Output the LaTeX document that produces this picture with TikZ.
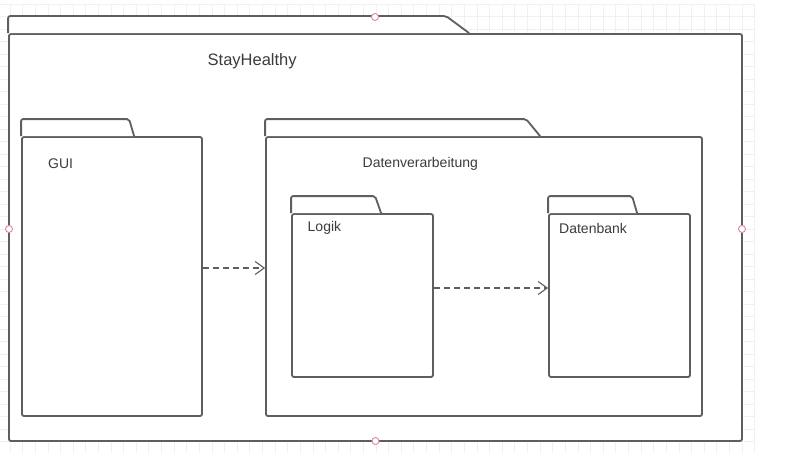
\documentclass[tikz,border=0pt]{standalone}
\usepackage{fontspec}
\setmainfont{Liberation Sans}
\usetikzlibrary{arrows.meta}
\definecolor{linegray}{HTML}{5E5E5E}
\definecolor{textgray}{HTML}{3C3C3C}
\definecolor{gridgray}{HTML}{F0F0F0}
\definecolor{handlered}{HTML}{D98A9A}

\begin{document}
\begin{tikzpicture}[x=1pt,y=-1pt]
\tikzstyle{pkg}=[draw=linegray, line width=1.8pt, rounded corners=2pt, fill=white, inner sep=0pt]
\tikzstyle{gridline}=[draw=gridgray, line width=0.7pt]
\tikzstyle{label}=[text=textgray, font=\fontsize{14}{17}\selectfont, anchor=west, inner sep=0pt]
\tikzstyle{dep}=[draw=linegray, line width=1.1pt, dash pattern=on 6pt off 4pt, -{Straight Barb[length=9pt,width=13pt,line width=1.1pt]}]
\tikzstyle{handle}=[circle, draw=handlered, fill=white, line width=0.9pt, minimum size=7pt, inner sep=0pt]

\useasboundingbox (0,0) rectangle (792,460);

% background grid
\foreach \i in {0,...,59} {
\draw[gridline] (10+\i*12.62,4) -- (10+\i*12.62,453);
}
\foreach \j in {0,...,35} {
\draw[gridline] (0,4+\j*12.5) -- (755,4+\j*12.5);
}

% package bodies
\node[pkg, minimum width=733pt, minimum height=407pt] (outer) at (375.5,237.5) {};
\node[pkg, minimum width=180pt, minimum height=279pt] (gui) at (112,276.5) {};
\node[pkg, minimum width=436pt, minimum height=279pt] (dv) at (484,276.5) {};
\node[pkg, minimum width=141pt, minimum height=163pt] (logik) at (362.5,295.5) {};
\node[pkg, minimum width=141pt, minimum height=163pt] (db) at (619.5,295.5) {};

% tabs
\foreach \n/\w/\s in {outer/438/23, gui/108/5, dv/261/14, logik/84/6, db/84/5} {
\draw[pkg] (\n.north west) -- ++(0,-17) -- ++(\w,0) -- ++(\s,17);
}

% names
\node[label, font=\fontsize{16.5}{19}\selectfont] (tstay) at (207.5,61) {StayHealthy};
\node[label] (tgui) at (48,164) {GUI};
\node[label] (tdv) at (362.5,164) {Datenverarbeitung};
\node[label] (tlogik) at (307.5,228) {Logik};
\node[label] (tdb) at (559,228) {Datenbank};

% dependencies
\draw[dep] ([yshift=8.5pt]gui.east) -- ([yshift=8.5pt]dv.west);
\draw[dep] ([yshift=7.5pt]logik.east) -- ([yshift=7.5pt]db.west);

% selection handles
\foreach \x/\y [count=\k] in {375/17, 9/229, 742/229, 375.5/441} {
\node[handle] (h\k) at (\x,\y) {};
}

\end{tikzpicture}
\end{document}
